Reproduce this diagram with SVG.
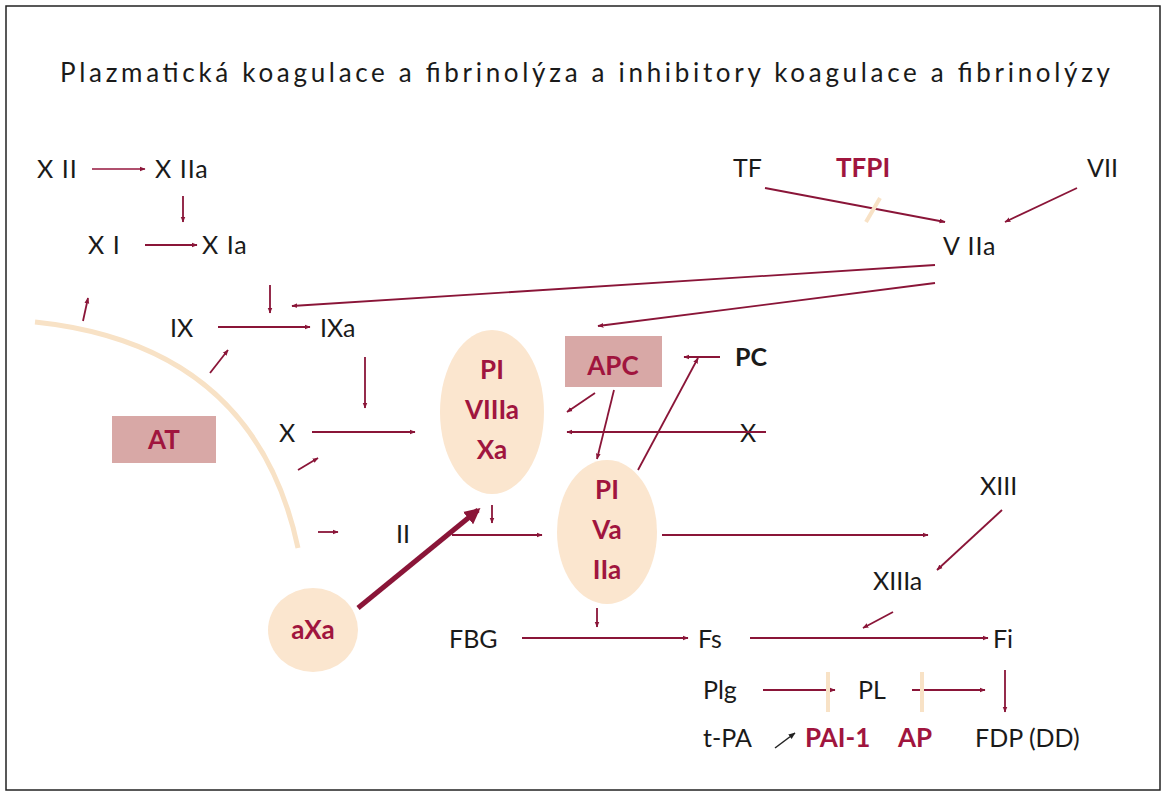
<svg xmlns="http://www.w3.org/2000/svg" width="1170" height="800" viewBox="0 0 1170 800">
<defs>
<marker id="ah" viewBox="0 0 10 10" refX="9" refY="5" markerWidth="6" markerHeight="6" orient="auto-start-reverse" markerUnits="userSpaceOnUse"><path d="M0,1 L10,5 L0,9 z" fill="#8a1538"/></marker>
<marker id="ak" viewBox="0 0 10 10" refX="9" refY="5" markerWidth="7" markerHeight="7" orient="auto" markerUnits="userSpaceOnUse"><path d="M0,1 L10,5 L0,9 z" fill="#222"/></marker>
<marker id="ahb" viewBox="0 0 10 10" refX="8" refY="5" markerWidth="16" markerHeight="16" orient="auto" markerUnits="userSpaceOnUse"><path d="M0,0 L10,5 L0,10 z" fill="#8a1538"/></marker>
</defs>
<style>
text{font-family:Lato,"Open Sans","Liberation Sans",sans-serif;font-size:25px;fill:#1a1a1a}
.t{font-size:26px}
.r{fill:#a0153e;font-weight:bold;font-size:26px}
.c{text-anchor:middle}
.a{stroke:#8a1538;stroke-width:1.8;fill:none;marker-end:url(#ah)}
.pale{stroke:#f8e2c6;stroke-width:5;fill:none}
.ell{fill:#fbe6cf}
.box{fill:#d8a8a6}
</style>
<rect x="6" y="6" width="1154" height="784" fill="#fff" stroke="#222" stroke-width="1.5"/>
<text x="60" y="82" class="t" textLength="1050" lengthAdjust="spacing">Plazmatická koagulace a fibrinolýza a inhibitory koagulace a fibrinolýzy</text>

<path class="pale" d="M35,322 Q255,345 298,548"/>

<g id="nodes">
<g id="XII"><text x="37" y="178" letter-spacing="1">X II</text></g>
<g id="XIIa"><text x="155" y="178" letter-spacing="1">X IIa</text></g>
<g id="XI"><text x="88" y="254" letter-spacing="1">X I</text></g>
<g id="XIa"><text x="202" y="254" letter-spacing="1">X Ia</text></g>
<g id="IX"><text x="170" y="337">IX</text></g>
<g id="IXa"><text x="320" y="337">IXa</text></g>
<g id="AT"><rect class="box" x="112" y="416" width="104" height="47"/><text x="164" y="449" class="c r">AT</text></g>
<g id="X"><text x="279" y="442">X</text></g>
<g id="PIVIIIaXa"><ellipse class="ell" cx="492" cy="412" rx="52" ry="82"/><text x="492" y="379" class="c r">PI</text><text x="492" y="419" class="c r">VIIIa</text><text x="492" y="459" class="c r">Xa</text></g>
<g id="APC"><rect class="box" x="565" y="336" width="97" height="51"/><text x="613" y="375" class="c r">APC</text></g>
<g id="PC"><text x="735" y="366" style="font-weight:bold">PC</text></g>
<g id="X2"><text x="740" y="442">X</text></g>
<g id="PIVaIIa"><ellipse class="ell" cx="607" cy="532" rx="50" ry="72"/><text x="607" y="499" class="c r">PI</text><text x="607" y="539" class="c r">Va</text><text x="607" y="579" class="c r">IIa</text></g>
<g id="II"><text x="396" y="543">II</text></g>
<g id="aXa"><ellipse class="ell" cx="313" cy="630" rx="45" ry="42"/><text x="313" y="639" class="c r">aXa</text></g>
<g id="TF"><text x="733" y="177">TF</text></g>
<g id="TFPI"><text x="836" y="177" class="r">TFPI</text></g>
<g id="VII"><text x="1087" y="177">VII</text></g>
<g id="VIIa"><text x="943" y="255" letter-spacing="1">V IIa</text></g>
<g id="XIII"><text x="980" y="495">XIII</text></g>
<g id="XIIIa"><text x="873" y="590">XIIIa</text></g>
<g id="FBG"><text x="449" y="648">FBG</text></g>
<g id="Fs"><text x="698" y="648">Fs</text></g>
<g id="Fi"><text x="993" y="648">Fi</text></g>
<g id="Plg"><text x="703" y="699">Plg</text></g>
<g id="PL"><text x="858" y="699">PL</text></g>
<g id="tPA"><text x="703" y="747">t-PA</text></g>
<g id="PAI1"><text x="805" y="747" class="r">PAI-1</text></g>
<g id="AP"><text x="898" y="747" class="r">AP</text></g>
<g id="FDP"><text x="975" y="747">FDP (DD)</text></g>
</g>

<g id="connectors">
<line class="a" x1="92" y1="169" x2="145" y2="169" style="stroke:#b0506e"/>
<line class="a" x1="183" y1="196" x2="183" y2="222"/>
<line class="a" x1="145" y1="245" x2="197" y2="245"/>
<line class="a" x1="270" y1="285" x2="270" y2="313"/>
<line class="a" x1="935" y1="265" x2="292" y2="306"/>
<line class="a" x1="218" y1="327" x2="310" y2="327"/>
<line class="a" x1="83" y1="321" x2="88" y2="298"/>
<line class="a" x1="210" y1="373" x2="228" y2="350"/>
<line class="a" x1="298" y1="470" x2="318" y2="458"/>
<line class="a" x1="318" y1="532" x2="338" y2="532"/>
<line class="a" x1="365" y1="357" x2="365" y2="408"/>
<line class="a" x1="312" y1="432" x2="415" y2="432"/>
<line class="a" x1="935" y1="283" x2="598" y2="326"/>
<line class="a" x1="720" y1="357" x2="684" y2="357"/>
<line class="a" x1="595" y1="393" x2="567" y2="412"/>
<line class="a" x1="766" y1="432" x2="567" y2="432"/>
<line class="a" x1="614" y1="390" x2="597" y2="459"/>
<line class="a" x1="638" y1="470" x2="698" y2="358"/>
<line class="a" x1="492" y1="505" x2="492" y2="523"/>
<line class="a" x1="452" y1="535" x2="542" y2="535"/>
<line x1="358" y1="608" x2="478" y2="510" stroke="#8a1538" stroke-width="5" marker-end="url(#ahb)"/>
<line class="a" x1="662" y1="535" x2="928" y2="535"/>
<line class="a" x1="1002" y1="510" x2="937" y2="570"/>
<line class="a" x1="893" y1="612" x2="863" y2="628"/>
<line class="a" x1="522" y1="638" x2="688" y2="638"/>
<line class="a" x1="597" y1="608" x2="597" y2="627"/>
<line class="a" x1="750" y1="638" x2="988" y2="638"/>
<line class="a" x1="763" y1="690" x2="835" y2="690"/>
<line class="pale" x1="828" y1="672" x2="828" y2="712" style="stroke-width:4"/>
<line class="a" x1="912" y1="690" x2="985" y2="690"/>
<line class="pale" x1="922" y1="672" x2="922" y2="712" style="stroke-width:4"/>
<line class="a" x1="1005" y1="670" x2="1005" y2="712"/>
<line x1="775" y1="748" x2="795" y2="733" stroke="#222" stroke-width="1.5" marker-end="url(#ak)"/>
<line class="a" x1="765" y1="188" x2="945" y2="222"/>
<line class="pale" x1="880" y1="198" x2="866" y2="222" style="stroke-width:4"/>
<line class="a" x1="1077" y1="188" x2="1005" y2="222"/>
</g>
</svg>
